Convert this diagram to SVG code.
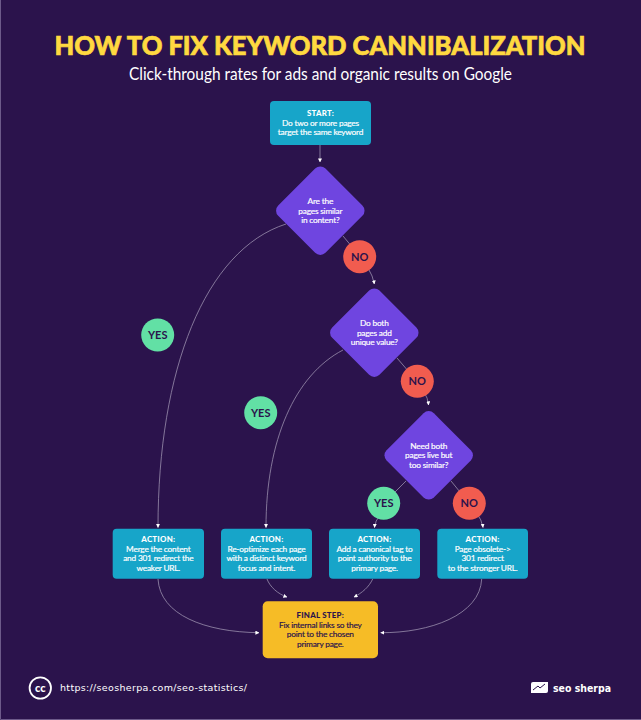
<svg xmlns="http://www.w3.org/2000/svg" width="641" height="720" viewBox="0 0 641 720">
<style>
.t{font-family:Lato,"Open Sans",sans-serif;text-anchor:middle}
.n{font-size:8.300px;font-weight:400;fill:#fff;stroke:#fff;stroke-width:.18;letter-spacing:-.2px}
.h{font-size:7.900px;font-weight:900;fill:#fff;letter-spacing:.25px}
.c{fill:none;stroke:#9a8fad;stroke-width:.8;marker-end:url(#a)}
.s{fill:none;stroke:#9a8fad;stroke-width:.8}
.l{font-size:11px;font-weight:700;fill:#2b134c}
.box{fill:#17a5c9}
.dia{fill:#6f45e0}
.no{fill:#f15c4f}
.yes{fill:#62e0a5}
</style>
<defs>
<marker id="a" markerWidth="4" markerHeight="4" viewBox="0 0 4 4" refX="3.6" refY="2" orient="auto" markerUnits="userSpaceOnUse"><path d="M0,0 L4,2 L0,4 Z" fill="#fff"/></marker>
</defs>
<rect width="641" height="720" fill="#2b134c"/>
<path d="M.5,0 V719.5 H641" fill="none" stroke="#6d5a8a" stroke-width="1"/>
<text class="t" x="320" y="55" font-size="27" font-weight="900" fill="#ffd940" stroke="#ffd940" stroke-width=".7" textLength="531" lengthAdjust="spacingAndGlyphs">HOW TO FIX KEYWORD CANNIBALIZATION</text>
<text class="t" x="320.500" y="80" font-size="16.800" fill="#fff" textLength="383" lengthAdjust="spacingAndGlyphs">Click-through rates for ads and organic results on Google</text>
<g id="connectors">
<path class="c" d="M320,145 V162"/>
<path class="s" d="M343,236 L358,254"/>
<path class="c" d="M368,268 Q373,276 374.300,284"/>
<path class="s" d="M397,358 L415,379"/>
<path class="c" d="M424,392 Q428,398 428.500,405"/>
<path class="s" d="M406,481 L384,503"/>
<path class="c" d="M380,515 Q375,521 374.500,527.500"/>
<path class="s" d="M451,481 L469,503"/>
<path class="c" d="M476,512 Q482,520 483,527.500"/>
<path class="c" d="M286,224 C205,250 158,370 158,527.500"/>
<path class="c" d="M343,350 C295,375 266,440 266,527.500"/>
<path class="c" d="M158,579 C160,615 205,632 259,632.700"/>
<path class="c" d="M267,579 C270,587 278,594 287,597"/>
<path class="c" d="M372.700,579 C369,587 362,593 354,597"/>
<path class="c" d="M481.700,579 C480,615 430,633 380.700,632.700"/>
</g>
<g id="start">
<rect class="box" x="270" y="101" width="101" height="44" rx="4"/>
<text class="t h" x="320.500" y="116">START:</text>
<text class="t n" x="320.500" y="125.500">Do two or more pages</text>
<text class="t n" x="320.500" y="135">target the same keyword</text>
</g>
<g id="decision1">
<rect class="dia" x="-27.500" y="-27.500" width="55" height="55" rx="6" transform="translate(320.300 210.700) rotate(45) scale(1.215)"/>
<text class="t n" x="320.300" y="204">Are the</text>
<text class="t n" x="320.300" y="213.500">pages similar</text>
<text class="t n" x="320.300" y="223">in content?</text>
</g>
<g id="no1"><circle class="no" cx="359.700" cy="256.700" r="16.500"/><text class="t l" x="359.700" y="260.700">NO</text></g>
<g id="decision2">
<rect class="dia" x="-27.500" y="-27.500" width="55" height="55" rx="6" transform="translate(374.300 332.700) rotate(45) scale(1.215)"/>
<text class="t n" x="374.300" y="326">Do both</text>
<text class="t n" x="374.300" y="335.500">pages add</text>
<text class="t n" x="374.300" y="345">unique value?</text>
</g>
<g id="no2"><circle class="no" cx="417.300" cy="381.300" r="16.500"/><text class="t l" x="417.300" y="385.300">NO</text></g>
<g id="decision3">
<rect class="dia" x="-27.500" y="-27.500" width="55" height="55" rx="6" transform="translate(428.700 455.300) rotate(45) scale(1.215)"/>
<text class="t n" x="428.700" y="448.500">Need both</text>
<text class="t n" x="428.700" y="458">pages live but</text>
<text class="t n" x="428.700" y="467.500">too similar?</text>
</g>
<g id="yes1"><circle class="yes" cx="157.700" cy="335" r="16.500"/><text class="t l" x="157.700" y="339">YES</text></g>
<g id="yes2"><circle class="yes" cx="260.700" cy="412.700" r="16.500"/><text class="t l" x="260.700" y="416.700">YES</text></g>
<g id="yes3"><circle class="yes" cx="383.700" cy="503.300" r="16.500"/><text class="t l" x="383.700" y="507.300">YES</text></g>
<g id="no3"><circle class="no" cx="469.300" cy="503.300" r="16.500"/><text class="t l" x="469.300" y="507.300">NO</text></g>
<g id="action1">
<rect class="box" x="112.700" y="528.700" width="91.300" height="50" rx="4"/>
<text class="t h" x="158.300" y="542">ACTION:</text>
<text class="t n" x="158.300" y="551.500">Merge the content</text>
<text class="t n" x="158.300" y="561">and 301 redirect the</text>
<text class="t n" x="158.300" y="571">weaker URL.</text>
</g>
<g id="action2">
<rect class="box" x="221" y="528.700" width="91" height="50" rx="4"/>
<text class="t h" x="266.500" y="542">ACTION:</text>
<text class="t n" x="266.500" y="551.500">Re-optimize each page</text>
<text class="t n" x="266.500" y="561">with a distinct keyword</text>
<text class="t n" x="266.500" y="571">focus and intent.</text>
</g>
<g id="action3">
<rect class="box" x="329" y="528.700" width="91" height="50" rx="4"/>
<text class="t h" x="374.500" y="542">ACTION:</text>
<text class="t n" x="374.500" y="551.500">Add a canonical tag to</text>
<text class="t n" x="374.500" y="561">point authority to the</text>
<text class="t n" x="374.500" y="571">primary page.</text>
</g>
<g id="action4">
<rect class="box" x="437.300" y="528.700" width="90.700" height="50" rx="4"/>
<text class="t h" x="482.600" y="542">ACTION:</text>
<text class="t n" x="482.600" y="551.500">Page obsolete-&gt;</text>
<text class="t n" x="482.600" y="561">301 redirect</text>
<text class="t n" x="482.600" y="571">to the stronger URL.</text>
</g>
<g id="final">
<rect x="262.700" y="601.300" width="115.300" height="57" rx="5" fill="#f6bc26"/>
<text class="t h" x="320.300" y="618" style="fill:#2b134c">FINAL STEP:</text>
<text class="t n" x="320.300" y="627.500" style="fill:#2b134c;stroke:#2b134c">Fix internal links so they</text>
<text class="t n" x="320.300" y="637" style="fill:#2b134c;stroke:#2b134c">point to the chosen</text>
<text class="t n" x="320.300" y="647" style="fill:#2b134c;stroke:#2b134c">primary page.</text>
</g>
<g id="footer">
<circle cx="40.300" cy="688" r="10.700" fill="none" stroke="#fff" stroke-width="1.800"/>
<text class="t" x="40.300" y="691.500" font-size="11" font-weight="900" fill="#fff">cc</text>
<text x="60" y="691" font-family="'DejaVu Sans',sans-serif" font-size="9.500" fill="#fff" textLength="187" lengthAdjust="spacing">https://seosherpa.com/seo-statistics/</text>
<path d="M533,682 H548 V691 Q548,693 546,693 H531 V684 Q531,682 533,682 Z" fill="#fff"/>
<path d="M533,690 L538,686 L540,688 L545,684" fill="none" stroke="#2b134c" stroke-width="1"/>
<text x="553" y="692" font-family="'DejaVu Sans',sans-serif" font-size="11" font-weight="700" fill="#fff" textLength="58" lengthAdjust="spacingAndGlyphs">seo sherpa</text>
</g>
</svg>
